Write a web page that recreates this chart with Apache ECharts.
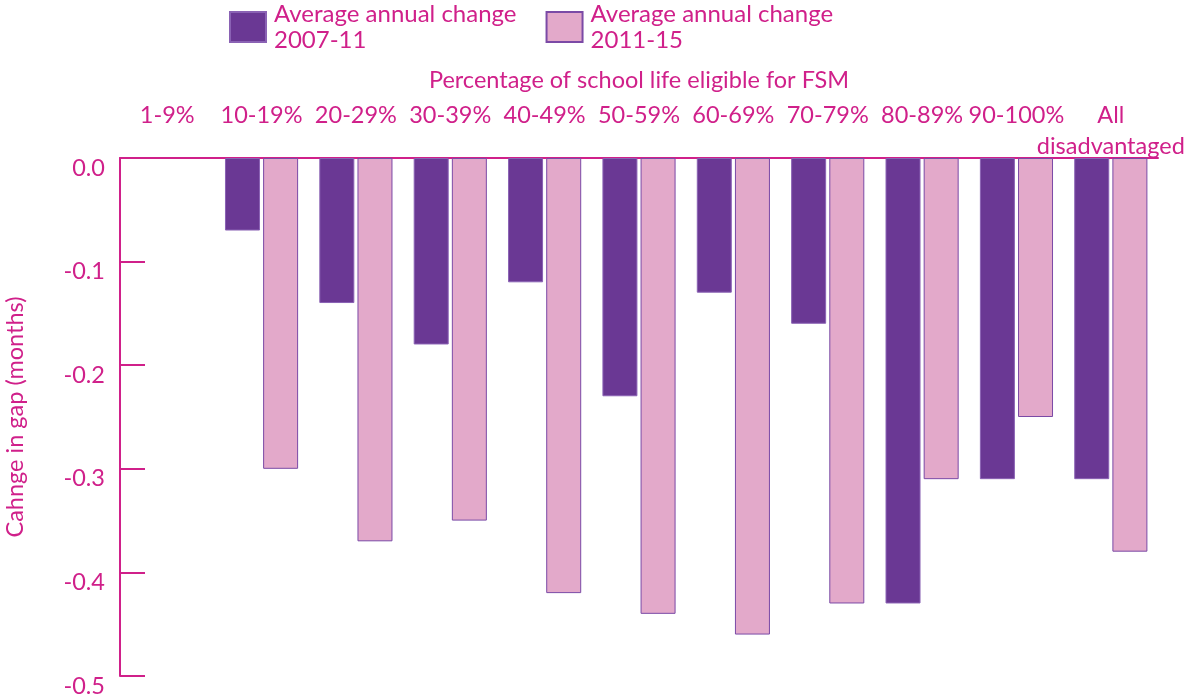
<!DOCTYPE html>
<html>
<head>
<meta charset="utf-8">
<script src="https://cdn.jsdelivr.net/npm/echarts@6/dist/echarts.min.js"></script>
<style>
  html, body { margin: 0; padding: 0; background: #fff; }
  #chart { width: 1186px; height: 698px; }
</style>
</head>
<body>
<div id="chart"></div>
<script>
// Data
const categories = ['1-9%', '10-19%', '20-29%', '30-39%', '40-49%', '50-59%',
    '60-69%', '70-79%', '80-89%', '90-100%', 'All\ndisadvantaged'];
const change2007 = [null, -0.07, -0.14, -0.18, -0.12, -0.23, -0.13, -0.16, -0.43, -0.31, -0.31];
const change2011 = [null, -0.30, -0.37, -0.35, -0.42, -0.44, -0.46, -0.43, -0.31, -0.25, -0.38];
const seriesNames = ['Average annual change\n2007-11', 'Average annual change\n2011-15'];

const pink = '#d0208a';
const fontFamily = 'Lato';
const fs = 23.5;

const chart = echarts.init(document.getElementById('chart'));
chart.setOption({
    animation: false,
    textStyle: { fontFamily: fontFamily },
    legend: {
        top: -4,
        left: 224,
        itemWidth: 36,
        itemHeight: 30,
        itemGap: 29,
        icon: 'rect',
        textStyle: {
            color: pink, fontSize: 24, lineHeight: 26, fontFamily: fontFamily,
            padding: [0, 0, 0, 3]
        },
        data: seriesNames
    },
    grid: { left: 120, right: 28, top: 158, bottom: 22, containLabel: false, outerBoundsMode: 'none' },
    xAxis: {
        type: 'category',
        position: 'top',
        data: categories,
        name: 'Percentage of school life eligible for FSM',
        nameLocation: 'middle',
        nameGap: 66,
        nameTextStyle: { color: pink, fontSize: fs, fontFamily: fontFamily },
        axisLine: { onZero: false, lineStyle: { color: pink, width: 2 } },
        axisTick: { inside: true, length: 12, lineStyle: { color: pink, width: 2 } },
        axisLabel: {
            color: pink,
            fontSize: fs,
            lineHeight: 31,
            verticalAlign: 'top',
            margin: 58,
            interval: 0
        }
    },
    yAxis: {
        type: 'value',
        min: -0.5,
        max: 0,
        interval: 0.1,
        name: 'Cahnge in gap (months)',
        nameLocation: 'middle',
        nameGap: 93,
        nameTextStyle: { color: pink, fontSize: fs, fontFamily: fontFamily },
        axisLine: { show: true, lineStyle: { color: pink, width: 2 } },
        axisTick: { show: true, inside: true, length: 25, lineStyle: { color: pink, width: 2 } },
        splitLine: { show: false },
        axisLabel: {
            color: pink,
            fontSize: fs,
            lineHeight: 20,
            margin: 15,
            verticalAlign: 'top',
            formatter: function (v) { return v.toFixed(1); }
        }
    },
    series: [
        {
            name: seriesNames[0],
            type: 'bar',
            barWidth: 35,
            barGap: '9%',
            data: change2007,
            itemStyle: { color: '#6a3894', borderColor: '#8a62b4', borderWidth: 1 }
        },
        {
            name: seriesNames[1],
            type: 'bar',
            barWidth: 35,
            data: change2011,
            itemStyle: { color: '#e3a9ca', borderColor: '#7b4aa6', borderWidth: 1 }
        }
    ]
});

window.addEventListener('resize', function () {
    chart.resize();
});
</script>
</body>
</html>
